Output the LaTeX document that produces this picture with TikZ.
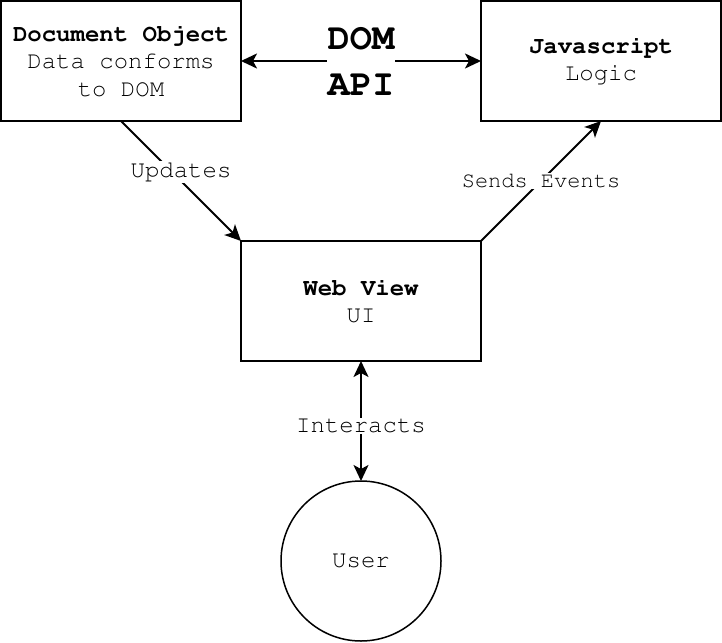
\documentclass[tikz,border=0pt]{standalone}
\usepackage[T1]{fontenc}
\renewcommand{\rmdefault}{pcr}
\usetikzlibrary{arrows.meta}

\begin{document}
\begin{tikzpicture}[x=1pt,y=-1pt,
    box/.style={draw,line width=2pt,minimum width=240pt,minimum height=120pt,align=center,inner sep=0,outer sep=0,font=\fontsize{24}{27.5}\selectfont},
    lbl/.style={fill=white,inner sep=1pt,font=\fontsize{24}{27.5}\selectfont},
    arr/.style={line width=2pt,>={Stealth[length=16pt,width=15pt,inset=4pt]}}]
  \useasboundingbox (0,0) rectangle (722,642);
  \node[box] (doc) at (121,61) {\textbf{Document Object}\\Data conforms\\to DOM};
  \node[box] (js) at (601,61) {\textbf{Javascript}\\Logic};
  \node[box] (web) at (361,301) {\textbf{Web View}\\UI};
  \node[draw,circle,line width=1.5pt,minimum size=160pt,inner sep=0,outer sep=0,font=\fontsize{24}{27.5}\selectfont] (user) at (361,561) {User};
  \draw[arr,<->] (doc) -- node[lbl,align=center,font=\fontsize{37}{46}\selectfont\bfseries]{DOM\\API} (js);
  \draw[arr,->] (doc.south) -- node[lbl,yshift=9pt]{Updates} (web.north west);
  \draw[arr,->] (web.north east) -- node[lbl,font=\fontsize{22}{26}\selectfont]{Sends Events} (js.south);
  \draw[arr,<->] (web) -- node[lbl,yshift=-5pt]{Interacts} (user);
\end{tikzpicture}
\end{document}
